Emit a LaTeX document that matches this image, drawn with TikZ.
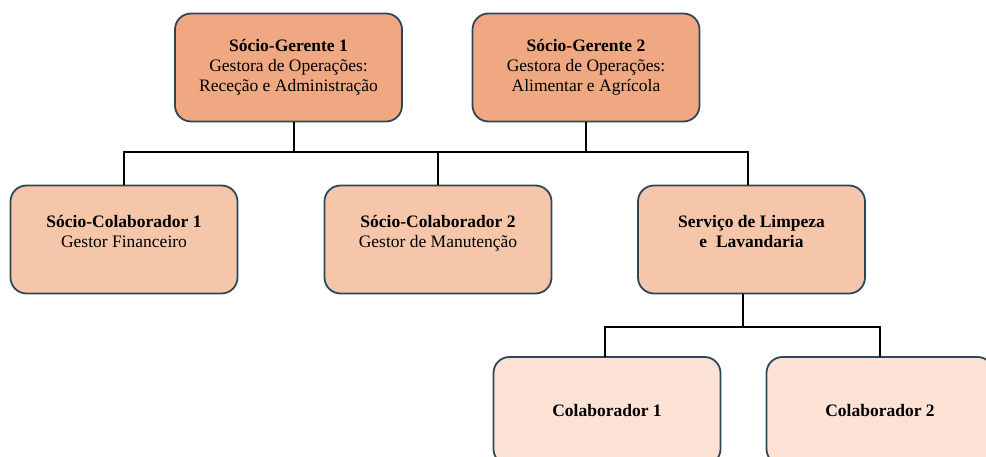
\documentclass[tikz,border=0pt]{standalone}
\usepackage{fontspec}
\setmainfont{Liberation Serif}
\definecolor{cTop}{HTML}{F0A882}
\definecolor{cMid}{HTML}{F5C6AA}
\definecolor{cLow}{HTML}{FBE2D5}
\definecolor{cEdge}{HTML}{2E4756}
\begin{document}
\begin{tikzpicture}[x=1pt,y=-1pt,
  orgbox/.style={draw=cEdge, line width=1.8pt, rounded corners=16pt,
    minimum width=227pt, minimum height=108pt, align=center, inner sep=2pt,
    font=\fontsize{17.5}{20}\selectfont},
  link/.style={draw=black, line width=2.4pt}]
\useasboundingbox (0,0) rectangle (986,457);
\clip (0,0) rectangle (986,457);
\node[orgbox, fill=cTop] (sg1) at (288.5,67.5) {\textbf{Sócio-Gerente 1}\\Gestora de Operações:\\Receção e Administração};
\node[orgbox, fill=cTop] (sg2) at (586,67.5) {\textbf{Sócio-Gerente 2}\\Gestora de Operações:\\Alimentar e Agrícola};
\node[orgbox, fill=cMid] (sc1) at (124,239.5) {\textbf{Sócio-Colaborador 1}\\Gestor Financeiro\\[-4pt]\mbox{}};
\node[orgbox, fill=cMid] (sc2) at (438,239.5) {\textbf{Sócio-Colaborador 2}\\Gestor de Manutenção\\[-4pt]\mbox{}};
\node[orgbox, fill=cMid] (sv) at (751.5,239.5) {\textbf{Serviço de Limpeza}\\\textbf{e\ \ Lavandaria}\\[-4pt]\mbox{}};
\node[orgbox, fill=cLow] (c1) at (607,411) {\textbf{Colaborador 1}};
\node[orgbox, fill=cLow] (c2) at (880,411) {\textbf{Colaborador 2}};
\coordinate (bar) at (0,152);
\coordinate (sg1d) at (294,122);
\coordinate (svu) at (748,185);
\coordinate (svd) at (743,294);
\coordinate (bar2) at (0,327);
\coordinate (c1u) at (605,357);
\coordinate (c2u) at (880,357);
\draw[link] (sg1d) -- (sg1d |- bar);
\draw[link] (sg2.south) -- (sg2.south |- bar);
\draw[link] (sc1.north) -- (sc1.north |- bar) -- (svu |- bar) -- (svu);
\draw[link] (sc2.north) -- (sc2.north |- bar);
\draw[link] (svd) -- (svd |- bar2);
\draw[link] (c1u) -- (c1u |- bar2) -- (c2u |- bar2) -- (c2u);
\end{tikzpicture}
\end{document}
